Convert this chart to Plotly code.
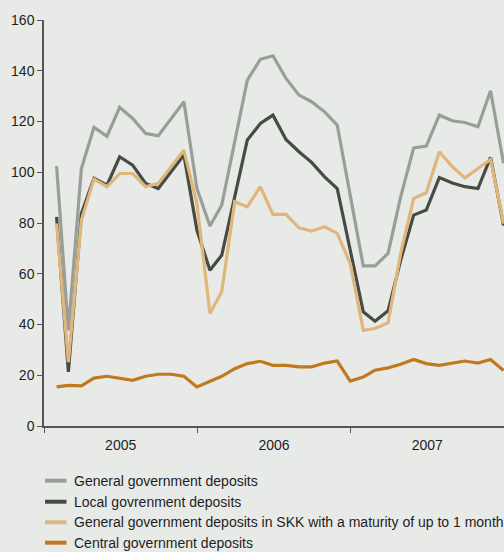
import pandas as pd
import plotly.graph_objects as go

# Monthly observations, Jan 2005 - Dec 2007 (SKK billions)
months = pd.date_range("2005-01-31", periods=36, freq="ME")

general_gov = [102.4, 37.7, 101.5, 117.7, 114.2, 125.6, 121.2, 115.3, 114.4, 121.2, 127.8, 93.6,
               78.8, 87.0, 111.4, 136.3, 144.5, 145.9, 137.0, 130.4, 127.8, 123.8, 118.6, 91.0,
               63.1, 63.1, 68.0, 90.3, 109.6, 110.3, 122.5, 120.3, 119.6, 117.9, 132.1, 103.5]

local_gov = [82.4, 21.3, 83.7, 97.6, 94.9, 106.1, 102.8, 95.6, 93.6, 100.2, 106.8, 77.2,
             61.4, 67.3, 90.3, 112.7, 119.2, 122.5, 112.9, 108.1, 103.9, 98.2, 93.6, 69.0,
             45.0, 41.3, 45.4, 65.3, 83.1, 85.1, 97.9, 95.8, 94.3, 93.6, 105.9, 79.0]

general_skk_1m = [79.8, 25.2, 81.1, 97.3, 94.3, 99.5, 99.5, 94.3, 95.6, 102.2, 108.7, 87.7,
                  44.3, 52.9, 88.4, 86.4, 94.3, 83.4, 83.4, 78.1, 76.8, 78.5, 75.9, 64.0,
                  37.7, 38.4, 40.6, 68.0, 89.7, 91.9, 108.1, 102.2, 97.8, 101.5, 105.0, 79.8]

central_gov = [15.4, 16.0, 15.8, 18.9, 19.6, 18.7, 18.0, 19.6, 20.4, 20.4, 19.6, 15.4,
               17.6, 19.6, 22.6, 24.6, 25.5, 23.9, 23.9, 23.3, 23.3, 24.8, 25.6, 17.7,
               19.3, 22.0, 22.9, 24.3, 26.2, 24.6, 23.9, 24.8, 25.6, 24.8, 26.2, 21.9]

series_names = [
    "General government deposits",
    "Local govrenment deposits",
    "General government deposits in SKK with a maturity of up to 1 month",
    "Central government deposits",
]
series_values = [general_gov, local_gov, general_skk_1m, central_gov]
series_colors = ["#989f98", "#464b46", "#dfb67c", "#c0791f"]

y_ticks = [0, 20, 40, 60, 80, 100, 120, 140, 160]

BG = "#e8eae7"
FONT = "Liberation Sans, Arial, sans-serif"
TEXT = "#1e1e1e"

fig = go.Figure()
for name, vals, col in zip(series_names, series_values, series_colors):
    fig.add_trace(go.Scatter(
        x=months, y=vals, name=name, mode="lines",
        line=dict(color=col, width=3.2),
        showlegend=False,
    ))

# Hand-built legend below the plot
legend_rows = [-0.1347, -0.1865, -0.2372, -0.2874]
for name, col, yp in zip(series_names, series_colors, legend_rows):
    fig.add_shape(type="line", xref="paper", yref="paper",
                  x0=0.0022, x1=0.0489, y0=yp, y1=yp,
                  line=dict(color=col, width=4))
    fig.add_annotation(xref="paper", yref="paper", x=0.0609, y=yp,
                       text=name, showarrow=False, xanchor="left", yanchor="middle",
                       font=dict(family=FONT, size=14, color=TEXT))

fig.update_layout(
    width=504, height=552,
    margin=dict(l=44, r=0, t=20, b=126),
    paper_bgcolor=BG, plot_bgcolor=BG,
    font=dict(family=FONT, size=14, color=TEXT),
)

fig.update_xaxes(
    type="date",
    range=["2005-01-01", "2008-01-01"],
    tick0="2005-01-01", dtick="M12",
    ticklabelmode="period", tickformat="%Y",
    ticks="outside", ticklen=5, tickcolor="#555555", tickwidth=1,
    showline=True, linecolor="#555555", linewidth=1.5,
    showgrid=False, zeroline=False,
    tickfont=dict(family=FONT, size=14, color=TEXT),
)

fig.update_yaxes(
    range=[0, 160], tickvals=y_ticks,
    ticks="outside", ticklen=5, tickcolor="#555555", tickwidth=1,
    showline=True, linecolor="#555555", linewidth=1.5,
    showgrid=False, zeroline=False,
    tickfont=dict(family=FONT, size=14, color=TEXT),
)

fig.write_html("out.html")
